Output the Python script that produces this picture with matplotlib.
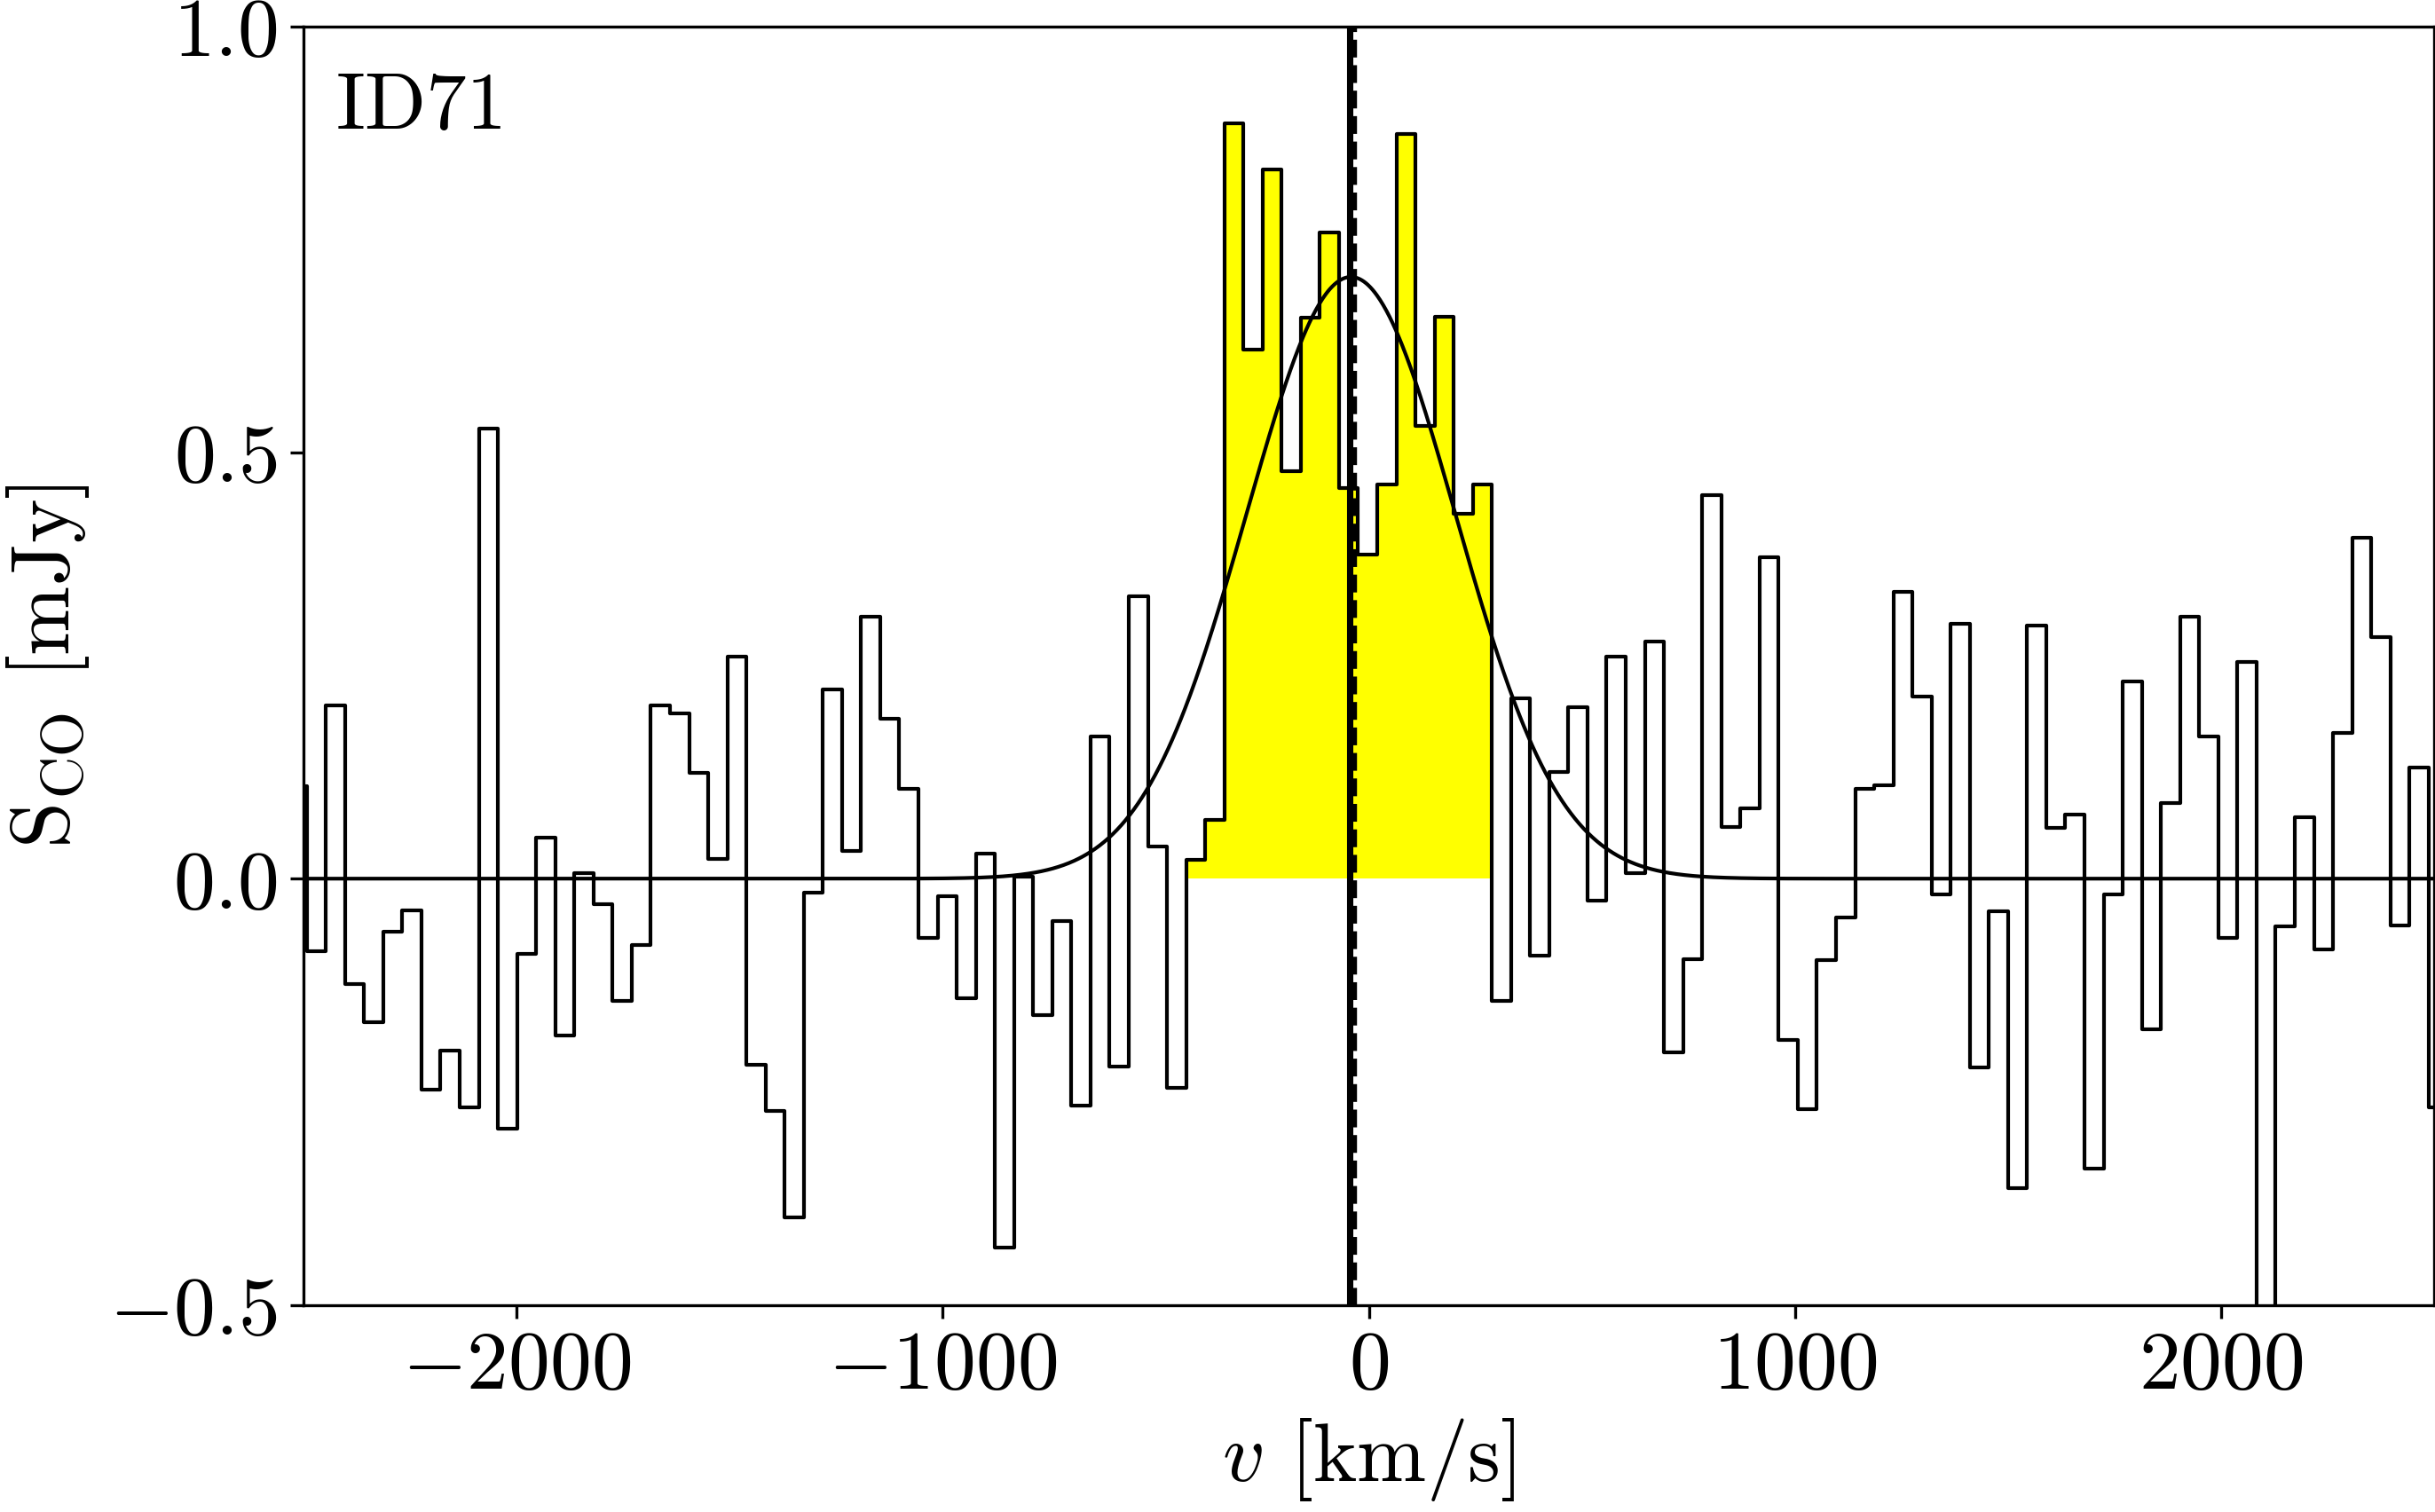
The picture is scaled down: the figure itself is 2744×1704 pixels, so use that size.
import numpy as np
import matplotlib
matplotlib.use("Agg")
import matplotlib.pyplot as plt

plt.rcParams['font.family'] = 'serif'
plt.rcParams['font.serif'] = ['cmr10']
plt.rcParams['mathtext.fontset'] = 'cm'
plt.rcParams['axes.formatter.use_mathtext'] = True
plt.rcParams['axes.unicode_minus'] = True

# spectrum channels (regular velocity grid), flux in mJy
v_first = -2515.4
dv = 44.87
flux = [0.109, -0.085, 0.203, -0.124, -0.168, -0.062, -0.037, -0.248, -0.202, -0.268,
        0.528, -0.293, -0.088, 0.048, -0.184, 0.006, -0.030, -0.143, -0.078, 0.203,
        0.194, 0.124, 0.023, 0.261, -0.218, -0.273, -0.397, -0.016, 0.222, 0.032,
        0.307, 0.188, 0.105, -0.069, -0.021, -0.140, 0.029, -0.433, 0.002, -0.160,
        -0.050, -0.266, 0.167, -0.220, 0.331, 0.038, -0.245, 0.022, 0.069, 0.886,
        0.621, 0.832, 0.478, 0.658, 0.758, 0.458, 0.380, 0.462, 0.874, 0.531,
        0.659, 0.428, 0.462, -0.143, 0.212, -0.090, 0.125, 0.201, -0.026, 0.261,
        0.006, 0.278, -0.204, -0.094, 0.450, 0.061, 0.082, 0.377, -0.189, -0.270,
        -0.096, -0.046, 0.105, 0.110, 0.336, 0.214, -0.019, 0.299, -0.221, -0.038,
        -0.363, 0.297, 0.060, 0.075, -0.340, -0.019, 0.231, -0.177, 0.089, 0.307,
        0.167, -0.070, 0.254, -0.600, -0.056, 0.072, -0.083, 0.171, 0.400, 0.283,
        -0.055, 0.130, -0.268]

# line window (shaded) and gaussian fit
line_lo, line_hi = -430, 290
g_amp, g_cen, g_sig = 0.706, -42.0, 245.0
v_sys = -45.0
v_fit = -35.0
label = "ID71"

flux = np.array(flux)
v = v_first + dv * np.arange(len(flux))

fig = plt.figure(figsize=(9.1467, 5.6833), dpi=300)
ax = fig.add_axes([0.12475, 0.13695, 0.87478, 0.84505])

sel = (v > line_lo) & (v < line_hi)
ax.bar(v[sel], flux[sel], width=dv, color='yellow', edgecolor='none', zorder=1)
ax.plot(v, flux, drawstyle='steps-mid', color='k', lw=1.0, zorder=3)

vv = np.linspace(-2500, 2500, 2000)
ax.plot(vv, g_amp * np.exp(-(vv - g_cen) ** 2 / (2 * g_sig ** 2)), color='k', lw=1.0, zorder=4)

ax.axvline(v_sys, color='k', lw=1.7, zorder=5)
ax.axvline(v_fit, color='k', lw=1.3, ls='--', zorder=5)

ax.set_xlim(-2500, 2500)
ax.set_ylim(-0.5, 1.0)
ax.set_xticks([-2000, -1000, 0, 1000, 2000])
ax.set_yticks([-0.5, 0.0, 0.5, 1.0])
ax.tick_params(labelsize=22.5)
ax.set_xlabel(r'$v$ [km/s]', fontsize=22.5, labelpad=3)
ax.set_ylabel(r'$\mathrm{S_{CO}}$ [mJy]', fontsize=22.5, labelpad=5)
ax.text(0.015, 0.9207, label, transform=ax.transAxes, fontsize=21.8,
        ha='left', va='baseline')

fig.savefig('out.png', dpi=300)
